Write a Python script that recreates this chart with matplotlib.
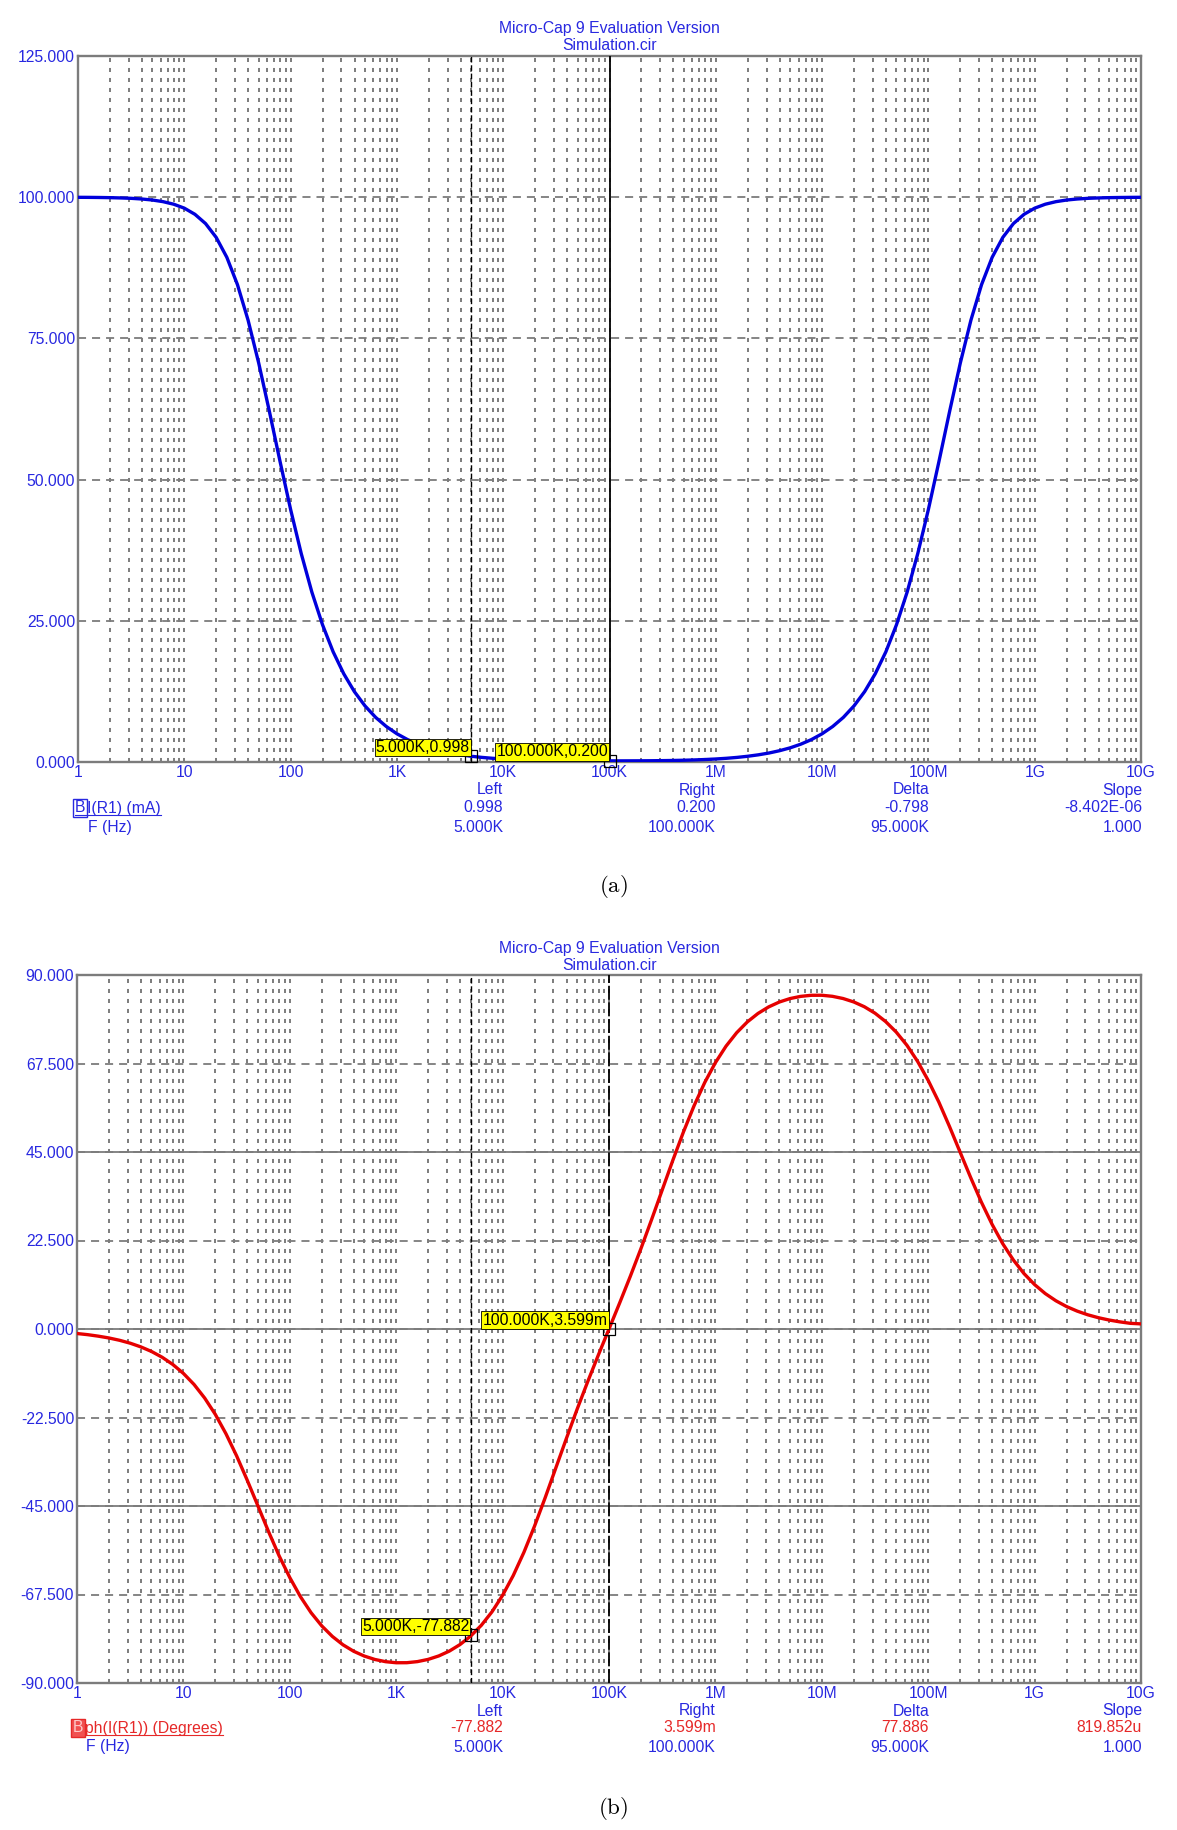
import matplotlib
matplotlib.use("Agg")
import numpy as np
import matplotlib.pyplot as plt
from matplotlib.lines import Line2D
from matplotlib.ticker import LogLocator, NullFormatter

plt.rcParams['font.family'] = ['Liberation Sans', 'DejaVu Sans']
plt.rcParams['lines.scale_dashes'] = False

W, H = 1177, 1830

# sample frequencies, 10 per decade from 1 Hz to 10 GHz
freq_hz = np.logspace(0, 10, 101)

# I(R1) in mA (a)
current_ma = [
    99.98, 99.97, 99.95, 99.92, 99.87, 99.80, 99.68, 99.50, 99.21, 98.76,
    98.06, 96.97, 95.33, 92.88, 89.36, 84.52, 78.23, 70.63, 62.11, 53.27,
    44.72, 36.91, 30.08, 24.31, 19.52, 15.62, 12.46, 9.93, 7.90, 6.29,
    5.00, 3.97, 3.16, 2.51, 2.00, 1.59, 1.27, 1.015, 0.814, 0.657,
    0.534, 0.439, 0.367, 0.313, 0.273, 0.245, 0.226, 0.213, 0.206, 0.201,
    0.200,
    0.201, 0.206, 0.213, 0.226, 0.245, 0.273, 0.313, 0.367, 0.439, 0.534,
    0.657, 0.814, 1.015, 1.27, 1.59, 2.00, 2.51, 3.16, 3.97, 5.00,
    6.29, 7.90, 9.93, 12.46, 15.62, 19.52, 24.31, 30.08, 36.91, 44.72,
    53.27, 62.11, 70.63, 78.23, 84.52, 89.36, 92.88, 95.33, 96.97, 98.06,
    98.76, 99.21, 99.50, 99.68, 99.80, 99.87, 99.92, 99.95, 99.97, 99.98,
]

# ph(I(R1)) in degrees (b)
phase_deg = [
    -1.15, -1.44, -1.82, -2.28, -2.87, -3.61, -4.55, -5.71, -7.18, -9.01,
    -11.29, -14.10, -17.56, -21.71, -26.63, -32.24, -38.45, -44.95, -51.49, -57.69,
    -63.20, -68.05, -72.13, -75.47, -78.16, -80.29, -81.93, -83.15, -84.02, -84.58,
    -84.85, -84.84, -84.56, -84.00, -83.12, -81.88, -80.22, -78.07, -75.33, -71.91,
    -67.71, -62.68, -56.79, -50.12, -42.90, -35.34, -27.79, -20.42, -13.38, -6.61,
    0.004,
    6.61, 13.38, 20.42, 27.79, 35.34, 42.90, 50.12, 56.79, 62.68, 67.71,
    71.91, 75.33, 78.07, 80.22, 81.88, 83.12, 84.00, 84.56, 84.84, 84.85,
    84.58, 84.02, 83.15, 81.93, 80.29, 78.16, 75.47, 72.13, 68.05, 63.20,
    57.69, 51.49, 44.95, 38.45, 32.24, 26.63, 21.71, 17.56, 14.10, 11.29,
    9.01, 7.18, 5.71, 4.55, 3.61, 2.87, 2.28, 1.82, 1.44, 1.30,
]

decade_ticks = [1, 1e1, 1e2, 1e3, 1e4, 1e5, 1e6, 1e7, 1e8, 1e9, 1e10]
decade_labels = ['1', '10', '100', '1K', '10K', '100K', '1M', '10M', '100M', '1G', '10G']

amp_ticks = [0, 25, 50, 75, 100, 125]
phase_ticks = [-90, -67.5, -45, -22.5, 0, 22.5, 45, 67.5, 90]
phase_solid = [-45, 0, 45]

cursor_left = 5e3
cursor_right = 1e5
amp_cursor_vals = [0.998, 0.200]
phase_cursor_vals = [-77.882, 0.003599]
amp_cursor_labels = ['5.000K,0.998', '100.000K,0.200']
phase_cursor_labels = ['5.000K,-77.882', '100.000K,3.599m']

readout_heads = ['Left', 'Right', 'Delta', 'Slope']
amp_readout = ['0.998', '0.200', '-0.798', '-8.402E-06']
phase_readout = ['-77.882', '3.599m', '77.886', '819.852u']
freq_readout = ['5.000K', '100.000K', '95.000K', '1.000']

TXT_BLUE = '#2828e0'
CURVE_BLUE = '#0000dc'
CURVE_RED = '#e60000'
TXT_RED = '#e62828'
GRID = '#7c7c7c'
FS = 11.3


def fx(x):
    return x / W


def fy(y):
    return 1 - y / H


fig = plt.figure(figsize=(W / 100, H / 100), dpi=100)
fig.patch.set_facecolor('white')

ax_a = fig.add_axes([fx(78), fy(762), (1141 - 78) / W, (762 - 56) / H])
ax_b = fig.add_axes([fx(77), fy(1683), (1141 - 77) / W, (1683 - 975) / H])


def style_axes(ax, yticks, solid_levels):
    ax.set_xscale('log')
    ax.set_xlim(1, 1e10)
    ax.set_ylim(yticks[0], yticks[-1])
    ax.set_xticks(decade_ticks)
    ax.set_xticklabels(decade_labels)
    ax.xaxis.set_minor_locator(LogLocator(base=10, subs=np.arange(2, 10), numticks=200))
    ax.xaxis.set_minor_formatter(NullFormatter())
    ax.set_yticks(yticks)
    ax.set_yticklabels([f'{v:.3f}' for v in yticks])
    ax.tick_params(which='both', length=0, colors=TXT_BLUE, labelsize=FS)
    ax.tick_params(axis='x', pad=2.5)
    ax.tick_params(axis='y', pad=2)
    ax.grid(True, which='both', axis='x', color=GRID, lw=1.4, linestyle=(0, (2.9, 4.3)))
    ax.grid(True, which='major', axis='y', color=GRID, lw=1.3, linestyle=(0, (5.8, 4.3)))
    for v in solid_levels:
        ax.axhline(v, color=GRID, lw=1.3, zorder=1)
    for sp in ax.spines.values():
        sp.set_color(GRID)
        sp.set_linewidth(1.7)


def add_cursors(ax, right_style):
    ax.axvline(cursor_left, color='black', lw=1.0, ls=(0, (4, 2)), zorder=2.6)
    ax.axvline(cursor_right, color='black', lw=1.3, ls=right_style, zorder=2.6)


def cursor_label(ax, x, y, text):
    ax.plot([x], [y], marker='s', ms=8, mfc='none', mec='black', mew=0.9,
            zorder=5, clip_on=False)
    ax.annotate(text, (x, y), xytext=(-1.0, 1.0), textcoords='offset points',
                ha='right', va='bottom', fontsize=FS, color='black', zorder=6,
                bbox=dict(boxstyle='square,pad=0.08', fc='#ffff00', ec='black', lw=0.6))


style_axes(ax_a, amp_ticks, [])
style_axes(ax_b, phase_ticks, phase_solid)

ax_a.plot(freq_hz, current_ma, color=CURVE_BLUE, lw=2.4, zorder=3)
ax_b.plot(freq_hz, phase_deg, color=CURVE_RED, lw=2.4, zorder=3)

add_cursors(ax_a, '-')
add_cursors(ax_b, (0, (10, 2)))

for xv, yv, s in zip([cursor_left, cursor_right], amp_cursor_vals, amp_cursor_labels):
    cursor_label(ax_a, xv, yv, s)
for xv, yv, s in zip([cursor_left, cursor_right], phase_cursor_vals, phase_cursor_labels):
    cursor_label(ax_b, xv, yv, s)

# titles
for y0 in (28, 948):
    fig.text(fx(609.5), fy(y0), 'Micro-Cap 9 Evaluation Version', ha='center', va='center',
             color=TXT_BLUE, fontsize=FS)
    fig.text(fx(609.5), fy(y0 + 18), 'Simulation.cir', ha='center', va='center',
             color=TXT_BLUE, fontsize=FS)

# cursor readouts
col_x = [503, 716, 929, 1142]


def readout(rows_y, values, value_color):
    for x, head, val, fr in zip(col_x, readout_heads, values, freq_readout):
        fig.text(fx(x), fy(rows_y[0]), head, ha='right', va='center', color=TXT_BLUE, fontsize=FS)
        fig.text(fx(x), fy(rows_y[1]), val, ha='right', va='center', color=value_color, fontsize=FS)
        fig.text(fx(x), fy(rows_y[2]), fr, ha='right', va='center', color=TXT_BLUE, fontsize=FS)


readout([790, 808, 827], amp_readout, TXT_BLUE)
readout([1711, 1728, 1747], phase_readout, TXT_RED)

fig.text(fx(88), fy(827), 'F (Hz)', ha='left', va='center', color=TXT_BLUE, fontsize=FS)
fig.text(fx(86), fy(1747), 'F (Hz)', ha='left', va='center', color=TXT_BLUE, fontsize=FS)

fig.canvas.draw()
renderer = fig.canvas.get_renderer()


def legend_label(x, y, rest, color, fill, b_color):
    b = fig.text(fx(x), fy(y), 'B', ha='left', va='center', color=b_color, fontsize=FS,
                 bbox=dict(boxstyle='square,pad=0.1', fc=fill, ec=color, lw=1.0))
    bb = b.get_window_extent(renderer)
    t = fig.text((bb.x1 + 1.5) / W, fy(y), rest, ha='left', va='center', color=color, fontsize=FS)
    bb2 = t.get_window_extent(renderer)
    fig.add_artist(Line2D([bb.x0 / W, bb2.x1 / W], [(bb2.y0 + 1) / H] * 2,
                          color=color, lw=0.8))


legend_label(75, 808, 'I(R1) (mA)', TXT_BLUE, 'none', TXT_BLUE)
legend_label(73, 1728, 'ph(I(R1)) (Degrees)', TXT_RED, '#f05050', '#ffc8c8')

# sub-figure captions
fig.text(fx(613), fy(887), r'$\mathrm{(a)}$', ha='center', va='center', fontsize=16.5,
         math_fontfamily='cm')
fig.text(fx(613), fy(1808), r'$\mathrm{(b)}$', ha='center', va='center', fontsize=16.5,
         math_fontfamily='cm')

fig.savefig('out.png', dpi=100)
